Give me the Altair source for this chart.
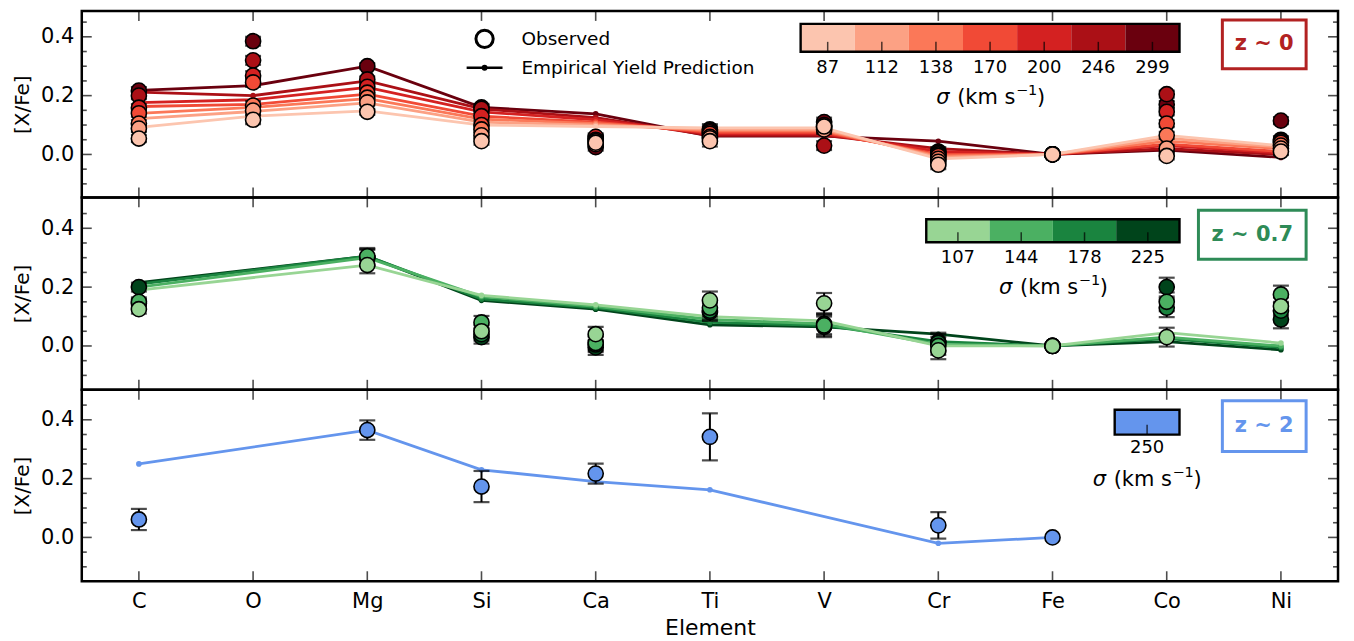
import altair as alt
import pandas as pd

elements = ["C", "O", "Mg", "Si", "Ca", "Ti", "V", "Cr", "Fe", "Co", "Ni"]
ytick_major = [0.0, 0.2, 0.4]
ytick_minor = [-0.1, -0.05, 0.05, 0.1, 0.15, 0.25, 0.3, 0.35, 0.45]

# ---------------- z ~ 0 ----------------
z0_sigmas = ["87", "112", "138", "170", "200", "246", "299"]
z0_colors = ["#fcc5af", "#fca184", "#fb7858", "#f14a36", "#d42121", "#ab1016", "#6a000e"]
z0_pred = {
    "87":  [0.092, 0.13, 0.148, 0.10, 0.095, 0.09, 0.09, -0.015, 0.0, 0.065, 0.03],
    "112": [0.122, 0.146, 0.175, 0.11, 0.10, 0.085, 0.085, -0.01, 0.0, 0.055, 0.025],
    "138": [0.14, 0.16, 0.19, 0.12, 0.105, 0.08, 0.08, -0.005, 0.0, 0.045, 0.02],
    "170": [0.163, 0.17, 0.205, 0.13, 0.11, 0.075, 0.075, 0.0, 0.0, 0.035, 0.01],
    "200": [0.176, 0.186, 0.228, 0.145, 0.118, 0.07, 0.07, 0.01, 0.0, 0.03, 0.005],
    "246": [0.212, 0.20, 0.25, 0.155, 0.125, 0.065, 0.065, 0.02, 0.0, 0.02, 0.0],
    "299": [0.218, 0.234, 0.30, 0.16, 0.138, 0.062, 0.062, 0.045, 0.0, 0.015, -0.01],
}
z0_obs = {
    "87":  [0.054, 0.118, 0.145, 0.045, 0.04, 0.045, 0.095, -0.035, 0.0, -0.005, 0.01],
    "112": [0.088, 0.149, 0.177, 0.065, 0.035, 0.055, 0.085, -0.025, 0.0, 0.02, 0.02],
    "138": [0.105, 0.166, 0.193, 0.085, 0.045, 0.06, 0.09, -0.015, 0.0, 0.065, 0.03],
    "170": [0.14, 0.245, 0.21, 0.10, 0.05, 0.07, 0.095, -0.005, 0.0, 0.105, 0.04],
    "200": [0.159, 0.268, 0.23, 0.13, 0.06, 0.075, 0.10, 0.0, 0.0, 0.145, 0.045],
    "246": [0.20, 0.32, 0.255, 0.155, 0.055, 0.08, 0.03, 0.005, 0.0, 0.205, 0.05],
    "299": [0.217, 0.385, 0.30, 0.16, 0.025, 0.085, 0.11, 0.01, 0.0, 0.17, 0.115],
}
z0_err = [0.012, 0.015, 0.01, 0.012, 0.012, 0.018, 0.015, 0.015, 0.0, 0.012, 0.012]

# ---------------- z ~ 0.7 ----------------
z07_sigmas = ["107", "144", "178", "225"]
z07_colors = ["#98d594", "#4bb062", "#1a843f", "#00441b"]
z07_pred = {
    "107": [0.19, None, 0.275, 0.172, 0.14, 0.10, 0.085, 0.0, 0.0, 0.045, 0.01],
    "144": [0.20, None, 0.30, 0.168, 0.135, 0.09, 0.075, 0.005, 0.0, 0.03, 0.0],
    "178": [0.21, None, 0.305, 0.16, 0.13, 0.08, 0.07, 0.015, 0.0, 0.025, -0.005],
    "225": [0.215, None, 0.305, 0.155, 0.125, 0.072, 0.065, 0.04, 0.0, 0.015, -0.013],
}
z07_obs = {
    "107": [0.125, None, 0.275, 0.05, 0.04, 0.155, 0.145, -0.015, 0.0, 0.03, 0.135],
    "144": [0.15, None, 0.305, 0.08, 0.01, 0.13, 0.07, 0.0, 0.0, 0.15, 0.175],
    "178": [0.145, None, 0.30, 0.04, 0.005, 0.12, 0.075, 0.01, 0.0, 0.13, 0.12],
    "225": [0.20, None, 0.30, 0.03, -0.005, 0.115, 0.065, 0.015, 0.0, 0.20, 0.09],
}
z07_err = [0.015, None, 0.028, 0.022, 0.025, 0.03, 0.035, 0.03, 0.0, 0.032, 0.03]

# ---------------- z ~ 2 ----------------
z2_sigmas = ["250"]
z2_colors = ["#6495ed"]
z2_pred = {"250": [0.25, None, 0.365, 0.23, 0.19, 0.162, None, -0.02, 0.0, None, None]}
z2_obs = {"250": [0.061, None, 0.365, 0.173, 0.217, 0.342, None, 0.041, 0.0, None, None]}
z2_errs = {"250": [0.036, None, 0.033, 0.053, 0.034, 0.08, None, 0.045, 0.0, None, None]}

W = 1260
FONT = "DejaVu Sans"
XS = alt.Scale(type="point", domain=elements, padding=0.5)


def build_tables(sigmas, pred, obs, err_for):
    prow, orow, erow, crow = [], [], [], []
    # dark first, light last
    for k, s in enumerate(reversed(sigmas)):
        errs = err_for(s)
        for i, el in enumerate(elements):
            p = pred[s][i]
            if p is not None:
                prow.append({"el": el, "sig": s, "val": p, "idx": i})
            o = obs[s][i]
            if o is not None:
                orow.append({"el": el, "sig": s, "val": o, "z": k})
                e = errs[i]
                if e:
                    erow.append({"el": el, "sig": s, "lo": o - e, "hi": o + e})
                    crow.append({"el": el, "v": o - e})
                    crow.append({"el": el, "v": o + e})
    return (pd.DataFrame(prow), pd.DataFrame(orow), pd.DataFrame(erow), pd.DataFrame(crow))


def panel(sigmas, colors, pred, obs, err_for, H, ydom, cb, box, ztext, zcolor, bottom, legend=None):
    pdf, odf, edf, cdf = build_tables(sigmas, pred, obs, err_for)
    cs = alt.Scale(domain=sigmas, range=colors)
    YS = alt.Scale(domain=ydom, nice=False, zero=False)
    yaxis = alt.Axis(title="[X/Fe]", values=ytick_major, format=".1f", ticks=False, domain=False,
                     grid=False, labelFontSize=21, labelPadding=8, labelColor="black",
                     titleFontSize=20, titleFontWeight="normal", titleColor="black",
                     titlePadding=7, minExtent=42, maxExtent=42, labelFont=FONT, titleFont=FONT)
    if bottom:
        xaxis = alt.Axis(title="Element", labelAngle=0, ticks=False, domain=False, grid=False,
                         labelFontSize=21, labelPadding=9, labelColor="black",
                         titleFontSize=22, titleFontWeight="normal", titleColor="black",
                         titlePadding=6, labelFont=FONT, titleFont=FONT)
    else:
        xaxis = None
    X = alt.X("el:N", scale=XS, axis=xaxis, sort=elements)

    def Y(f):
        return alt.Y(f, scale=YS, axis=yaxis)

    one = pd.DataFrame({"a": [0]})
    xt = pd.DataFrame({"el": elements})
    ymaj = pd.DataFrame({"v": ytick_major})
    ymin = pd.DataFrame({"v": ytick_minor})

    layers = []
    tk = dict(color="black", thickness=1.6)
    layers.append(alt.Chart(xt).mark_tick(orient="vertical", size=10, **tk).encode(x=X, y=alt.value(5)))
    layers.append(alt.Chart(xt).mark_tick(orient="vertical", size=10, **tk).encode(x=X, y=alt.value(H - 5)))
    layers.append(alt.Chart(ymaj).mark_tick(orient="horizontal", size=10, **tk).encode(y=Y("v:Q"), x=alt.value(5)))
    layers.append(alt.Chart(ymaj).mark_tick(orient="horizontal", size=10, **tk).encode(y=Y("v:Q"), x=alt.value(W - 5)))
    layers.append(alt.Chart(ymin).mark_tick(orient="horizontal", size=5, **tk).encode(y=Y("v:Q"), x=alt.value(2.5)))
    layers.append(alt.Chart(ymin).mark_tick(orient="horizontal", size=5, **tk).encode(y=Y("v:Q"), x=alt.value(W - 2.5)))

    layers.append(alt.Chart(pdf).mark_line(strokeWidth=2.8).encode(
        x=X, y=Y("val:Q"), color=alt.Color("sig:N", scale=cs, legend=None), order="idx:Q"))
    layers.append(alt.Chart(pdf).mark_circle(size=32, opacity=1).encode(
        x=X, y=Y("val:Q"), color=alt.Color("sig:N", scale=cs, legend=None)))
    layers.append(alt.Chart(edf).mark_rule(color="black", strokeWidth=2).encode(
        x=X, y=Y("lo:Q"), y2="hi:Q"))
    layers.append(alt.Chart(cdf).mark_tick(orient="horizontal", color="black", thickness=2.2, size=16).encode(
        x=X, y=Y("v:Q")))
    layers.append(alt.Chart(odf).mark_circle(size=230, opacity=1, stroke="black", strokeWidth=1.6).encode(
        x=X, y=Y("val:Q"), fill=alt.Fill("sig:N", scale=cs, legend=None), order="z:Q"))

    if legend is not None:
        ly1, ly2 = legend
        layers.append(alt.Chart(one).mark_point(shape="circle", filled=False, size=300, strokeWidth=3,
                                                color="black", opacity=1).encode(x=alt.value(404), y=alt.value(ly1)))
        layers.append(alt.Chart(one).mark_rule(color="black", strokeWidth=2.5).encode(
            x=alt.value(386), x2=alt.value(422), y=alt.value(ly2)))
        layers.append(alt.Chart(one).mark_circle(size=35, color="black", opacity=1).encode(
            x=alt.value(404), y=alt.value(ly2)))
        layers.append(alt.Chart(one).mark_text(align="left", baseline="middle", fontSize=18.5, font=FONT,
                                               color="black").encode(
            x=alt.value(441), y=alt.value(ly1), text=alt.value("Observed")))
        layers.append(alt.Chart(one).mark_text(align="left", baseline="middle", fontSize=18.5, font=FONT,
                                               color="black").encode(
            x=alt.value(441), y=alt.value(ly2), text=alt.value("Empirical Yield Prediction")))

    bx0, bx1, by0, by1 = box
    layers.append(alt.Chart(one).mark_rect(fill="white", stroke=zcolor, strokeWidth=3).encode(
        x=alt.value(bx0), x2=alt.value(bx1), y=alt.value(by0), y2=alt.value(by1)))
    layers.append(alt.Chart(one).mark_text(fontSize=21, fontWeight="bold", font=FONT, color=zcolor,
                                           baseline="middle").encode(
        x=alt.value((bx0 + bx1) / 2), y=alt.value((by0 + by1) / 2), text=alt.value(ztext)))

    main = alt.layer(*layers)

    cx0, cx1, cy0, cy1, ly, ty, tcx = cb
    cbdf = pd.DataFrame({"sig": sigmas})
    cbX = alt.X("sig:N", sort=sigmas, axis=None,
                scale=alt.Scale(type="band", domain=sigmas, range=[cx0, cx1], paddingInner=0, paddingOuter=0))
    t0 = tcx - 54
    ttxt = dict(font=FONT, color="black", baseline="middle", align="left")
    cbl = [
        alt.Chart(cbdf).mark_rect().encode(x=cbX, y=alt.value(cy0), y2=alt.value(cy1),
                                           fill=alt.Fill("sig:N", scale=cs, legend=None)),
        alt.Chart(cbdf).mark_tick(orient="vertical", size=10, thickness=1.5, color="black").encode(
            x=cbX, y=alt.value(cy1 - 5)),
        alt.Chart(one).mark_rect(fillOpacity=0, stroke="black", strokeWidth=2.4).encode(
            x=alt.value(cx0), x2=alt.value(cx1), y=alt.value(cy0), y2=alt.value(cy1)),
        alt.Chart(cbdf).mark_text(fontSize=18, font=FONT, color="black", baseline="middle").encode(
            x=cbX, y=alt.value(ly), text="sig:N"),
        alt.Chart(one).mark_text(fontSize=21, fontStyle="italic", **ttxt).encode(
            x=alt.value(t0), y=alt.value(ty), text=alt.value("σ")),
        alt.Chart(one).mark_text(fontSize=21, **ttxt).encode(
            x=alt.value(t0 + 21), y=alt.value(ty), text=alt.value("(km s")),
        alt.Chart(one).mark_text(fontSize=14.5, **ttxt).encode(
            x=alt.value(t0 + 80), y=alt.value(ty - 7), text=alt.value("−1")),
        alt.Chart(one).mark_text(fontSize=21, **ttxt).encode(
            x=alt.value(t0 + 101), y=alt.value(ty), text=alt.value(")")),
    ]
    cbar = alt.layer(*cbl)
    return alt.layer(main, cbar).resolve_scale(x="independent").properties(width=W, height=H)


p0 = panel(z0_sigmas, z0_colors, z0_pred, z0_obs, lambda s: z0_err, 187, [-0.146, 0.488],
           (721, 1101, 13, 41, 57, 87, 911), (1144, 1228, 9, 58), "z ~ 0", "#b22222", False,
           legend=(28, 57))
p1 = panel(z07_sigmas, z07_colors, z07_pred, z07_obs, lambda s: z07_err, 193, [-0.149, 0.505],
           (847, 1101, 22, 45, 61, 91, 974), (1120, 1228, 13, 62), "z ~ 0.7", "#2e8b57", False)
p2 = panel(z2_sigmas, z2_colors, z2_pred, z2_obs, lambda s: z2_errs[s], 192, [-0.149, 0.502],
           (1036, 1101, 20, 45, 58, 90, 1068), (1144, 1228, 11, 62), "z ~ 2", "#6495ed", True)

chart = alt.vconcat(p0, p1, p2, spacing=0, bounds="flush").resolve_scale(
    x="independent", y="independent", color="independent", fill="independent"
).properties(
    padding={"left": 3, "top": 0, "right": 6, "bottom": 0}
).configure(font=FONT).configure_view(stroke="black", strokeWidth=2.5)

chart.save("out.html", embed_options={"renderer": "svg", "actions": False})
